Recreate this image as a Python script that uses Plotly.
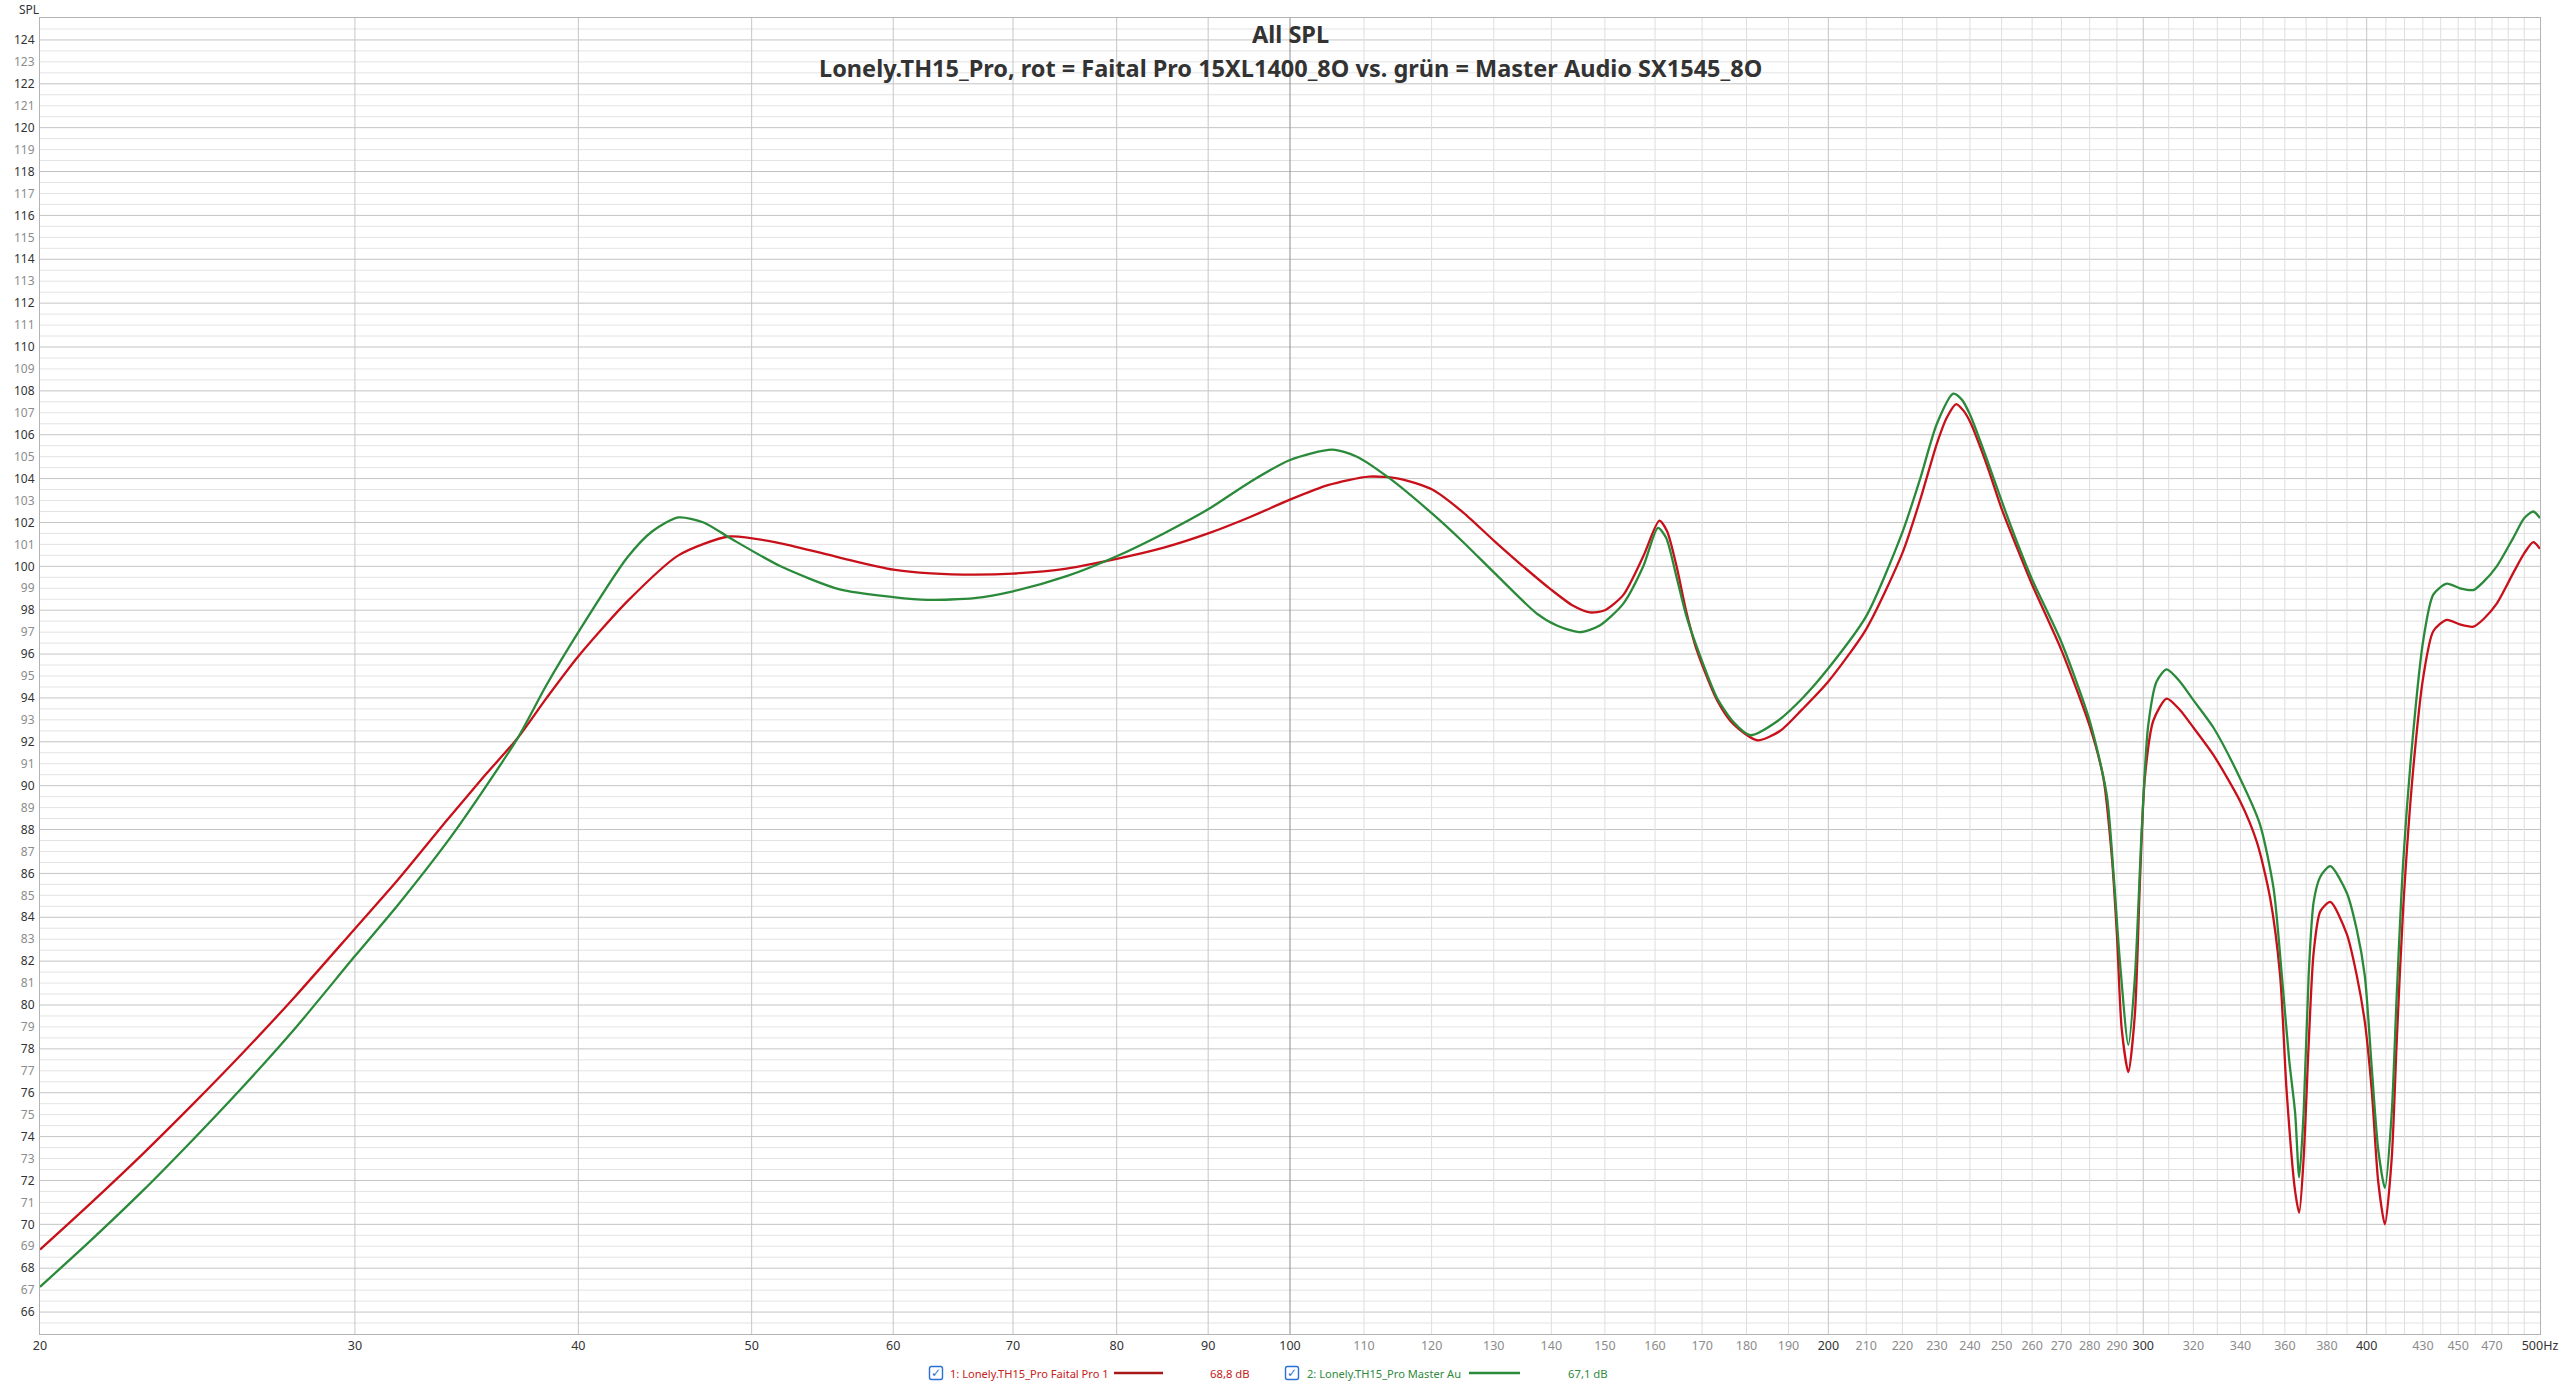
import plotly.graph_objects as go

# ---------------- data ----------------
freq_red = [20, 21.36, 22.81, 24.36, 26.01, 27.78, 30.0, 31.7, 33.8, 35.4, 37.0, 38.4, 40.0, 42.6, 45.5,
            48.6, 51.9, 56, 60, 63, 66.6, 70, 75, 80, 85, 90, 95, 100, 105, 110.7, 115, 120.1, 125, 130.1,
            135, 139.9, 144, 147.1, 150, 153.6, 157.6, 160.9, 162.5, 164.5, 166.5, 168.8, 173.3, 177, 182.5,
            188, 193.5, 200, 210, 220, 225, 230, 233, 235.8, 238, 240, 245.2, 250, 255, 260, 270, 280, 285,
            288.1, 290, 291.8, 294.3, 296.8, 298.7, 300.6, 303.9, 309.2, 314.6, 320, 328.4, 339.8, 347.3,
            353.2, 357.8, 360.8, 364.8, 366.7, 368.8, 371.2, 373.6, 376.8, 381.7, 389.9, 394.9, 399.0,
            402.6, 406.0, 409.5, 413.1, 415.7, 419.3, 424.7, 430.2, 435.8, 443.4, 451, 458.9, 465, 472.9,
            483.1, 490, 495.7, 500]
spl_red = [68.85, 70.98, 73.18, 75.49, 77.88, 80.39, 83.48, 85.7, 88.46, 90.39, 92.18, 94.0, 95.9, 98.4, 100.5,
           101.36, 101.05, 100.4, 99.85, 99.68, 99.62, 99.67, 99.9, 100.34, 100.85, 101.5, 102.25, 103.04, 103.7,
           104.09, 104.0, 103.5, 102.45, 101.15, 100.0, 98.95, 98.2, 97.9, 98.0, 98.7, 100.46, 102.08, 101.6,
           100.0, 98.0, 96.2, 93.9, 92.8, 92.07, 92.5, 93.5, 94.75, 97.14, 100.6, 102.98, 105.6, 106.8, 107.4,
           107.1, 106.6, 104.65, 102.62, 100.84, 99.16, 96.18, 92.72, 90.34, 86.76, 83.19, 78.9, 76.94, 79.6,
           85.57, 90.34, 92.96, 93.97, 93.44, 92.65, 91.39, 89.3, 87.41, 84.9, 81.35, 76.1, 71.5, 70.53, 73.0,
           78.2, 82.4, 84.27, 84.7, 83.23, 81.35, 79.25, 76.12, 71.93, 70.0, 73.0, 78.2, 84.5, 90.76, 94.94,
           97.04, 97.56, 97.35, 97.25, 97.6, 98.3, 99.7, 100.6, 101.1, 100.8]

freq_green = [20, 21.36, 22.81, 24.36, 26.01, 27.78, 30.0, 31.7, 33.8, 35.4, 37.0, 38.4, 40.0, 42.6, 44,
              45.5, 47, 48.6, 51.9, 56, 60, 62.7, 66.6, 70, 75, 80, 85, 90, 95, 100, 105.6, 109, 113.6, 120.1,
              125, 130.1, 137.3, 141, 145.2, 149, 153.6, 157.6, 160.6, 162.3, 164.5, 166.5, 168.8, 173.3, 177,
              180.9, 187, 193.5, 200, 210, 220, 225, 230, 234.9, 237.5, 240, 245, 250, 255, 260, 270, 280,
              286.2, 288.7, 291.1, 294.3, 296.8, 299.4, 301.9, 305.2, 309.2, 314.6, 320, 328.4, 339.8, 348.6,
              354.8, 358.6, 362, 364.8, 366.7, 368.8, 371.2, 373.6, 376.8, 381.7, 389.9, 394.9, 399, 402.6,
              406, 409.5, 413.1, 415.7, 419.3, 424.7, 430.2, 435.8, 443.4, 451, 458.9, 465, 472.9, 483.1, 490,
              495.7, 500]
spl_green = [67.15, 69.28, 71.5, 73.87, 76.33, 78.94, 82.23, 84.55, 87.46, 89.8, 92.18, 94.6, 97.0, 100.4, 101.6,
             102.23, 102.0, 101.3, 100.0, 98.95, 98.6, 98.47, 98.55, 98.86, 99.55, 100.46, 101.5, 102.6, 103.85,
             104.85, 105.32, 105.0, 104.03, 102.4, 101.1, 99.7, 97.87, 97.3, 97.0, 97.3, 98.3, 100.0, 101.75,
             101.3, 99.5, 97.8, 96.35, 94.0, 92.9, 92.3, 92.9, 94.0, 95.35, 97.73, 101.55, 103.94, 106.5, 107.87,
             107.6, 106.92, 105.0, 102.98, 101.1, 99.4, 96.54, 92.96, 89.6, 86.05, 82.0, 78.18, 81.28, 87.96,
             92.72, 94.75, 95.3, 94.73, 93.9, 92.64, 90.34, 88.25, 85.32, 81.35, 77.5, 75.07, 72.14, 75.07,
             81.35, 84.7, 85.85, 86.33, 85.11, 83.44, 81.35, 77.16, 73.4, 71.66, 75.07, 80.3, 86.58, 92.43,
             96.62, 98.71, 99.21, 99.0, 98.92, 99.3, 100.0, 101.3, 102.2, 102.5, 102.2]

x_tick_vals = [20, 30, 40, 50, 60, 70, 80, 90, 100, 110, 120, 130, 140, 150, 160, 170, 180, 190, 200,
               210, 220, 230, 240, 250, 260, 270, 280, 290, 300, 320, 340, 360, 380, 400, 430, 450, 470, 500]
x_tick_labels = [str(v) for v in x_tick_vals[:-1]] + ["500Hz"]
x_major_labels = [20, 30, 40, 50, 60, 70, 80, 90, 100, 200, 300, 400, 500]
x_grid_vals = list(range(30, 500, 10))
y_tick_vals = list(range(66, 125))
y_grid_vals = [v / 2 for v in range(131, 250)]

series_names = ["1: Lonely.TH15_Pro Faital Pro 1", "2: Lonely.TH15_Pro Master Au"]
series_levels = ["68,8 dB", "67,1 dB"]
title_line1 = "All SPL"
title_line2 = "Lonely.TH15_Pro, rot = Faital Pro 15XL1400_8O vs. grün = Master Audio SX1545_8O"

# ---------------- style ----------------
W, H = 2560, 1385
ML, MR, MT, MB = 40, 20, 18, 51
PW, PH = W - ML - MR, H - MT - MB
RED, GREEN = "#c8101a", "#2a8a3a"
RED_TXT, GREEN_TXT = "#c42020", "#2e8a3c"
DARK, GREY = "#333333", "#8c8c8c"
FONT = "Noto Sans"


def px_x(p):
    return (p - ML) / PW


def px_y(p):
    return (H - MB - p) / PH


fig = go.Figure()
fig.add_trace(go.Scatter(x=freq_red, y=spl_red, mode="lines", name=series_names[0],
                         line=dict(color=RED, width=2.3, shape="spline", smoothing=0.7)))
fig.add_trace(go.Scatter(x=freq_green, y=spl_green, mode="lines", name=series_names[1],
                         line=dict(color=GREEN, width=2.3, shape="spline", smoothing=0.7)))

shapes = []
for v in y_grid_vals:
    even = (v == int(v)) and int(v) % 2 == 0
    shapes.append(dict(type="line", xref="paper", yref="y", x0=0, x1=1, y0=v, y1=v, layer="below",
                       line=dict(color="#c4c4c4" if even else "#e3e3e3", width=1)))
for v in x_grid_vals:
    if v == 100:
        c = "#8e8e8e"
    elif v < 100 or v in (200, 300, 400):
        c = "#c6c6c6"
    else:
        c = "#dedede"
    shapes.append(dict(type="line", xref="x", yref="paper", x0=v, x1=v, y0=0, y1=1, layer="below",
                       line=dict(color=c, width=1)))

annotations = [
    dict(text=title_line1, xref="paper", yref="paper", x=0.5, y=px_y(34), showarrow=False,
         xanchor="center", yanchor="middle", font=dict(family=FONT, size=23.5, color="#333333", weight=700)),
    dict(text=title_line2, xref="paper", yref="paper", x=0.5, y=px_y(68), showarrow=False,
         xanchor="center", yanchor="middle", font=dict(family=FONT, size=23.5, color="#333333", weight=700)),
    dict(text="SPL", xref="paper", yref="paper", x=px_x(29), y=px_y(9), showarrow=False,
         xanchor="center", yanchor="middle", font=dict(family=FONT, size=12, color="#333333")),
]

# legend row (checkbox, name, line sample, level)
leg_y = 1373
legend_layout = [
    dict(box=936, name_x=948, line=(1114, 1163), level_x=1208, color=RED_TXT, lcolor="#a81818"),
    dict(box=1292, name_x=1305, line=(1469, 1520), level_x=1566, color=GREEN_TXT, lcolor="#2a8a3a"),
]
for i, L in enumerate(legend_layout):
    bx = L["box"]
    s = 6.5
    r = 2
    path = (f"M {px_x(bx - s + r)} {px_y(leg_y - s)} L {px_x(bx + s - r)} {px_y(leg_y - s)} "
            f"Q {px_x(bx + s)} {px_y(leg_y - s)} {px_x(bx + s)} {px_y(leg_y - s + r)} "
            f"L {px_x(bx + s)} {px_y(leg_y + s - r)} Q {px_x(bx + s)} {px_y(leg_y + s)} {px_x(bx + s - r)} {px_y(leg_y + s)} "
            f"L {px_x(bx - s + r)} {px_y(leg_y + s)} Q {px_x(bx - s)} {px_y(leg_y + s)} {px_x(bx - s)} {px_y(leg_y + s - r)} "
            f"L {px_x(bx - s)} {px_y(leg_y - s + r)} Q {px_x(bx - s)} {px_y(leg_y - s)} {px_x(bx - s + r)} {px_y(leg_y - s)} Z")
    shapes.append(dict(type="path", xref="paper", yref="paper", path=path,
                       line=dict(color="#2a6fd6", width=1.4), fillcolor="white"))
    annotations.append(dict(text="✓", xref="paper", yref="paper", x=px_x(bx), y=px_y(leg_y), showarrow=False,
                            xanchor="center", yanchor="middle",
                            font=dict(family="DejaVu Sans", size=12, color="#2a6fd6")))
    annotations.append(dict(text=series_names[i], xref="paper", yref="paper", x=px_x(L["name_x"]), y=px_y(leg_y),
                            showarrow=False, xanchor="left", yanchor="middle",
                            font=dict(family=FONT, size=11.1, color=L["color"])))
    shapes.append(dict(type="line", xref="paper", yref="paper", x0=px_x(L["line"][0]), x1=px_x(L["line"][1]),
                       y0=px_y(leg_y), y1=px_y(leg_y), line=dict(color=L["lcolor"], width=2.5)))
    annotations.append(dict(text=series_levels[i], xref="paper", yref="paper", x=px_x(L["level_x"]), y=px_y(leg_y),
                            showarrow=False, xanchor="left", yanchor="middle",
                            font=dict(family=FONT, size=11.3, color=L["color"])))

x_ticktext = [f'<span style="color:{DARK if v in x_major_labels else GREY}">{t}</span>'
              for v, t in zip(x_tick_vals, x_tick_labels)]
y_ticktext = [f'<span style="color:{DARK if v % 2 == 0 else GREY}">{v}</span>' for v in y_tick_vals]

fig.update_layout(
    width=W, height=H, margin=dict(l=ML, r=MR, t=MT, b=MB, pad=0, autoexpand=False),
    paper_bgcolor="white", plot_bgcolor="white", showlegend=False,
    font=dict(family=FONT, size=12, color=DARK),
    shapes=shapes, annotations=annotations,
    xaxis=dict(type="log", range=[1.30103, 2.69897], tickmode="array", tickvals=x_tick_vals,
               ticktext=x_ticktext, showgrid=False, zeroline=False, ticks="", showline=True, mirror=True,
               automargin=False, linecolor="#b4b4b4", linewidth=1, tickfont=dict(family=FONT, size=12.5),
               ticklabelstandoff=0),
    yaxis=dict(range=[65, 125], tickmode="array", tickvals=y_tick_vals, ticktext=y_ticktext,
               showgrid=False, zeroline=False, ticks="", showline=True, mirror=True, automargin=False,
               linecolor="#b4b4b4", linewidth=1, tickfont=dict(family=FONT, size=12), ticklabelstandoff=2),
)

fig.write_html("out.html", config={"displayModeBar": False},
               post_script="document.body.style.margin='0';document.body.style.overflow='hidden';")
